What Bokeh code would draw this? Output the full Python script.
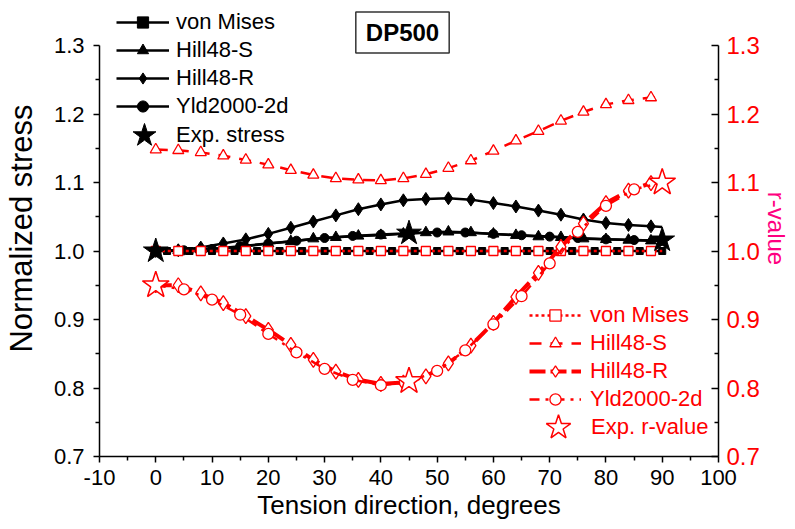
from bokeh.plotting import figure
from bokeh.models import (Range1d, LinearAxis, FixedTicker, Legend, LegendItem,
                          Label, PrintfTickFormatter)
from bokeh.embed import file_html
from bokeh.resources import INLINE

# ---------------- data ----------------
# angles (degrees)
ang2 = [0, 2, 4, 6, 8, 10, 12, 14, 16, 18, 20, 22, 24, 26, 28, 30, 32, 34, 36, 38, 40, 42, 44,
        46, 48, 50, 52, 54, 56, 58, 60, 62, 64, 66, 68, 70, 72, 74, 76, 78, 80, 82, 84, 86, 88, 90]
ang4 = [0, 4, 8, 12, 16, 20, 24, 28, 32, 36, 40, 44, 48, 52, 56, 60, 64, 68, 72, 76, 80, 84, 88, 90]
ang5 = [0, 5, 10, 15, 20, 25, 30, 35, 40, 45, 50, 55, 60, 65, 70, 75, 80, 85, 90]
ang_exp = [0, 45, 90]

# normalized stress (left axis)
vm_stress = [1.0, 1.0, 1.0, 1.0, 1.0, 1.0, 1.0, 1.0, 1.0, 1.0, 1.0, 1.0, 1.0, 1.0, 1.0, 1.0,
             1.0, 1.0, 1.0, 1.0, 1.0, 1.0, 1.0, 1.0, 1.0, 1.0, 1.0, 1.0, 1.0, 1.0, 1.0, 1.0,
             1.0, 1.0, 1.0, 1.0, 1.0, 1.0, 1.0, 1.0, 1.0, 1.0, 1.0, 1.0, 1.0, 1.0]
h48s_stress = [1.000, 1.001, 1.002, 1.004, 1.007, 1.011, 1.014, 1.018, 1.020, 1.022, 1.023, 1.025,
               1.027, 1.028, 1.027, 1.025, 1.023, 1.021, 1.020, 1.018, 1.017, 1.016, 1.015, 1.015]
h48r_stress = [1.000, 1.001, 1.005, 1.011, 1.017, 1.025, 1.034, 1.043, 1.052, 1.061, 1.068, 1.074,
               1.076, 1.077, 1.075, 1.070, 1.065, 1.059, 1.053, 1.046, 1.041, 1.038, 1.036, 1.035]
yld_stress = [1.000, 1.001, 1.003, 1.007, 1.011, 1.015, 1.019, 1.022, 1.024, 1.026, 1.027, 1.027,
              1.025, 1.023, 1.021, 1.019, 1.017, 1.016, 1.015]
exp_stress = [1.000, 1.026, 1.016]

# r-values (right axis)
vm_r = [1.0, 1.0, 1.0, 1.0, 1.0, 1.0, 1.0, 1.0, 1.0, 1.0, 1.0, 1.0,
        1.0, 1.0, 1.0, 1.0, 1.0, 1.0, 1.0, 1.0, 1.0, 1.0, 1.0, 1.0]
h48s_r = [1.148, 1.147, 1.144, 1.139, 1.133, 1.126, 1.118, 1.111, 1.106, 1.104, 1.103, 1.106,
          1.112, 1.121, 1.132, 1.146, 1.161, 1.175, 1.190, 1.203, 1.214, 1.220, 1.224, 1.225]
h48r_r = [0.950, 0.950, 0.938, 0.924, 0.905, 0.885, 0.863, 0.841, 0.824, 0.812, 0.806, 0.808,
          0.817, 0.836, 0.862, 0.895, 0.933, 0.968, 1.006, 1.040, 1.070, 1.088, 1.099, 1.100]
yld_r = [0.950, 0.944, 0.929, 0.907, 0.879, 0.852, 0.828, 0.812, 0.804, 0.809, 0.825, 0.855,
         0.893, 0.934, 0.982, 1.028, 1.066, 1.090, 1.100]
exp_r = [0.950, 0.810, 1.100]

x_ticks = [-10, 0, 10, 20, 30, 40, 50, 60, 70, 80, 90, 100]
x_minor = [-5, 5, 15, 25, 35, 45, 55, 65, 75, 85, 95]
y_ticks = [0.7, 0.8, 0.9, 1.0, 1.1, 1.2, 1.3]
y_minor = [0.75, 0.85, 0.95, 1.05, 1.15, 1.25]

# ---------------- figure ----------------
FONT = "Liberation Sans"
RED = "#FF0000"
PINK = "#FF0080"

p = figure(width=795, height=529, x_range=Range1d(-10, 100), y_range=Range1d(0.7, 1.3657),
           output_backend="svg", toolbar_location=None,
           min_border_left=98, min_border_right=77, min_border_top=0, min_border_bottom=73)
p.outline_line_color = None
p.grid.visible = False
p.background_fill_color = "white"

xa = p.xaxis[0]
xa.ticker = FixedTicker(ticks=x_ticks, minor_ticks=x_minor)
xa.formatter = PrintfTickFormatter(format="%d")
xa.axis_label = "Tension direction, degrees"
ya = p.yaxis[0]
ya.ticker = FixedTicker(ticks=y_ticks, minor_ticks=y_minor)
ya.bounds = (0.7, 1.3)
ya.formatter = PrintfTickFormatter(format="%.1f")
ya.axis_label = "Normalized stress"

ra = LinearAxis(ticker=FixedTicker(ticks=y_ticks, minor_ticks=y_minor), bounds=(0.7, 1.3),
                formatter=PrintfTickFormatter(format="%.1f"), axis_label="r-value")
p.add_layout(ra, "right")

for ax in (xa, ya, ra):
    ax.axis_line_width = 1.5
    ax.axis_line_color = "black"
    ax.major_tick_line_width = 1.5
    ax.minor_tick_line_width = 1.5
    ax.major_tick_line_color = "black"
    ax.minor_tick_line_color = "black"
    ax.major_label_text_font = FONT
    ax.major_label_text_color = "black"
    ax.axis_label_text_font = FONT
    ax.axis_label_text_font_style = "normal"
    ax.axis_label_text_font_size = "26px"
    ax.axis_label_text_color = "black"

xa.major_tick_out = 6
xa.major_tick_in = 0
xa.minor_tick_out = 4
xa.minor_tick_in = 0
xa.major_label_text_font_size = "22px"
xa.major_label_standoff = 7
xa.axis_label_standoff = 2

ya.major_tick_out = 6
ya.major_tick_in = 0
ya.minor_tick_out = 4
ya.minor_tick_in = 0
ya.major_label_text_font_size = "22px"
ya.major_label_standoff = 9
ya.axis_label_text_font_size = "31px"
ya.axis_label_standoff = 12

ra.major_tick_out = 0
ra.major_tick_in = 7
ra.minor_tick_out = 0
ra.minor_tick_in = 4
ra.major_label_text_font_size = "24px"
ra.major_label_text_color = RED
ra.major_label_standoff = 8
ra.axis_label_text_font_size = "24px"
ra.axis_label_text_color = PINK
ra.axis_label_standoff = 0

# ---------------- black: normalized stress ----------------
BW = 2.5
l_vm = p.line(ang2, vm_stress, line_color="black", line_width=BW)
s_vm = p.scatter(ang2, vm_stress, marker="square", size=7, fill_color="black", line_color="black")
l_hs = p.line(ang4, h48s_stress, line_color="black", line_width=BW)
s_hs = p.scatter(ang4[:-1], h48s_stress[:-1], marker="triangle", size=11,
                 fill_color="black", line_color="black")
l_hr = p.line(ang4, h48r_stress, line_color="black", line_width=BW)
s_hr = p.scatter(ang4[:-1], h48r_stress[:-1], marker="diamond", size=13,
                 fill_color="black", line_color="black")
l_yl = p.line(ang5, yld_stress, line_color="black", line_width=BW)
s_yl = p.scatter(ang5, yld_stress, marker="circle", size=9, fill_color="black", line_color="black")

# ---------------- red: r-values ----------------
rl_vm = p.line(ang4, vm_r, line_color=RED, line_width=2.5, line_dash="3 3")
rs_vm = p.scatter(ang4[:-1], vm_r[:-1], marker="square", size=9, fill_color="white",
                  line_color=RED, line_width=1.3)
rl_hs = p.line(ang4, h48s_r, line_color=RED, line_width=2.5, line_dash="12 9")
rs_hs = p.scatter(ang4[:-1], h48s_r[:-1], marker="triangle", size=11, fill_color="white",
                  line_color=RED, line_width=1.3)
rl_hr = p.line(ang4, h48r_r, line_color=RED, line_width=4, line_dash="16 5")
rs_hr = p.scatter(ang4[:-1], h48r_r[:-1], marker="diamond", size=15, fill_color="white",
                  line_color=RED, line_width=1.3)
rl_yl = p.line(ang5, yld_r, line_color=RED, line_width=2.5, line_dash="10 6 3 6")
rs_yl = p.scatter(ang5, yld_r, marker="circle", size=11, fill_color="white",
                  line_color=RED, line_width=1.3)

# ---------------- experiments ----------------
st_exp = p.scatter(ang_exp, exp_stress, marker="star", size=26, fill_color="black", line_color="black")
rt_exp = p.scatter(ang_exp, exp_r, marker="star", size=28, fill_color="white",
                   line_color=RED, line_width=1.5)


def make_legend(items, loc, gw, gh, standoff, color):
    lg = Legend(items=items, location=loc, glyph_width=gw, glyph_height=gh, spacing=0,
                padding=0, margin=0, label_standoff=standoff, label_text_font=FONT,
                label_text_font_size="22px", label_text_color=color,
                border_line_color=None, background_fill_alpha=0)
    p.add_layout(lg)
    return lg


make_legend([LegendItem(label="von Mises", renderers=[l_vm, s_vm]),
             LegendItem(label="Hill48-S", renderers=[l_hs, s_hs]),
             LegendItem(label="Hill48-R", renderers=[l_hr, s_hr]),
             LegendItem(label="Yld2000-2d", renderers=[l_yl, s_yl])],
            (17, 336), 53, 28, 7, "black")
make_legend([LegendItem(label="Exp. stress", renderers=[st_exp])],
            (15, 291), 60, 60, 2, "black")
make_legend([LegendItem(label="von Mises", renderers=[rl_vm, rs_vm]),
             LegendItem(label="Hill48-S", renderers=[rl_hs, rs_hs]),
             LegendItem(label="Hill48-R", renderers=[rl_hr, rs_hr]),
             LegendItem(label="Yld2000-2d", renderers=[rl_yl, rs_yl])],
            (430, 43), 52, 28, 9, RED)
make_legend([LegendItem(label="Exp. r-value", renderers=[rt_exp])],
            (427, -3), 64, 64, 1, RED)

# ---------------- title box ----------------
p.add_layout(Label(x=303, y=424, x_units="screen", y_units="screen", text="DP500",
                   text_align="center", text_baseline="middle", text_font=FONT,
                   text_font_size="24px", text_font_style="bold", text_color="black",
                   border_line_color="#333333", border_line_width=1.5,
                   background_fill_color="white", padding=(10, 7)))

open("out.html", "w").write(file_html(p, INLINE))
